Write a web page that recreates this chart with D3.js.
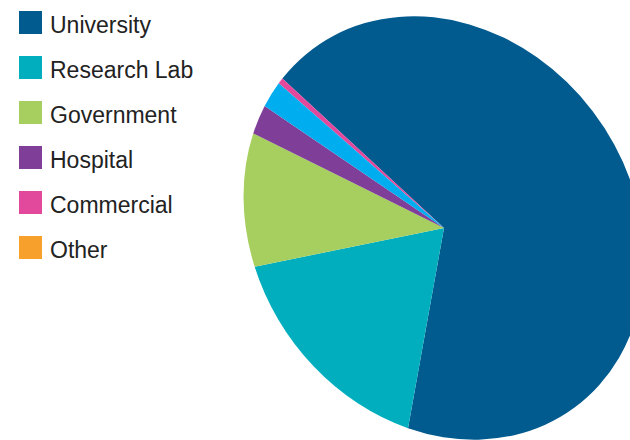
<!DOCTYPE html>
<html>
<head>
<meta charset="utf-8">
<script src="https://cdn.jsdelivr.net/npm/d3@7"></script>
<style>
  html, body { margin: 0; padding: 0; background: #ffffff; }
  svg { display: block; }
  .legend text { font-family: "Liberation Sans", Arial, sans-serif; font-size: 23px; fill: #222222; }
</style>
</head>
<body>
<svg id="chart" width="630" height="440"></svg>
<script>
// Institution types and their share of respondents (%)
const categories = ["University", "Research Lab", "Government", "Hospital", "Commercial", "Other", "Nonprofit"];
const shares = [67.8, 16.8, 10.3, 2.4, 0.5, 0, 2.2];
const palette = ["#025b8f", "#00aebe", "#a6cf5f", "#7f3f98", "#e2489b", "#f7a02b", "#00adef"];
// Entries listed in the key
const legendCategories = ["University", "Research Lab", "Government", "Hospital", "Commercial", "Other"];

const data = categories.map((c, i) => ({ category: c, value: shares[i] }));

const svg = d3.select("#chart");
const width = 630, height = 440;

const color = d3.scaleOrdinal().domain(categories).range(palette);

// Pie, largest slice first, rotated so it opens toward the upper left
const start = -49.3 * Math.PI / 180;
const pie = d3.pie()
  .value(d => d.value)
  .sort((a, b) => b.value - a.value)
  .startAngle(start)
  .endAngle(start + 2 * Math.PI);

const radius = 205;
const arc = d3.arc().innerRadius(0).outerRadius(radius);

// Slightly tilted, elliptical pie body
const g = svg.append("g")
  .attr("transform", "translate(444,228) rotate(55) scale(1.083,0.922) rotate(-55)");

g.selectAll("path")
  .data(pie(data))
  .join("path")
  .attr("d", arc)
  .attr("fill", d => color(d.data.category));

// Key
const legend = svg.append("g").attr("class", "legend");
const row = d3.scaleBand().domain(legendCategories).range([11, 11 + 45 * legendCategories.length]);

const item = legend.selectAll("g")
  .data(legendCategories)
  .join("g")
  .attr("transform", d => `translate(19,${row(d)})`);

item.append("rect")
  .attr("width", 23)
  .attr("height", 23)
  .attr("fill", d => color(d));

item.append("text")
  .attr("x", 31)
  .attr("y", 22)
  .text(d => d);
</script>
</body>
</html>
